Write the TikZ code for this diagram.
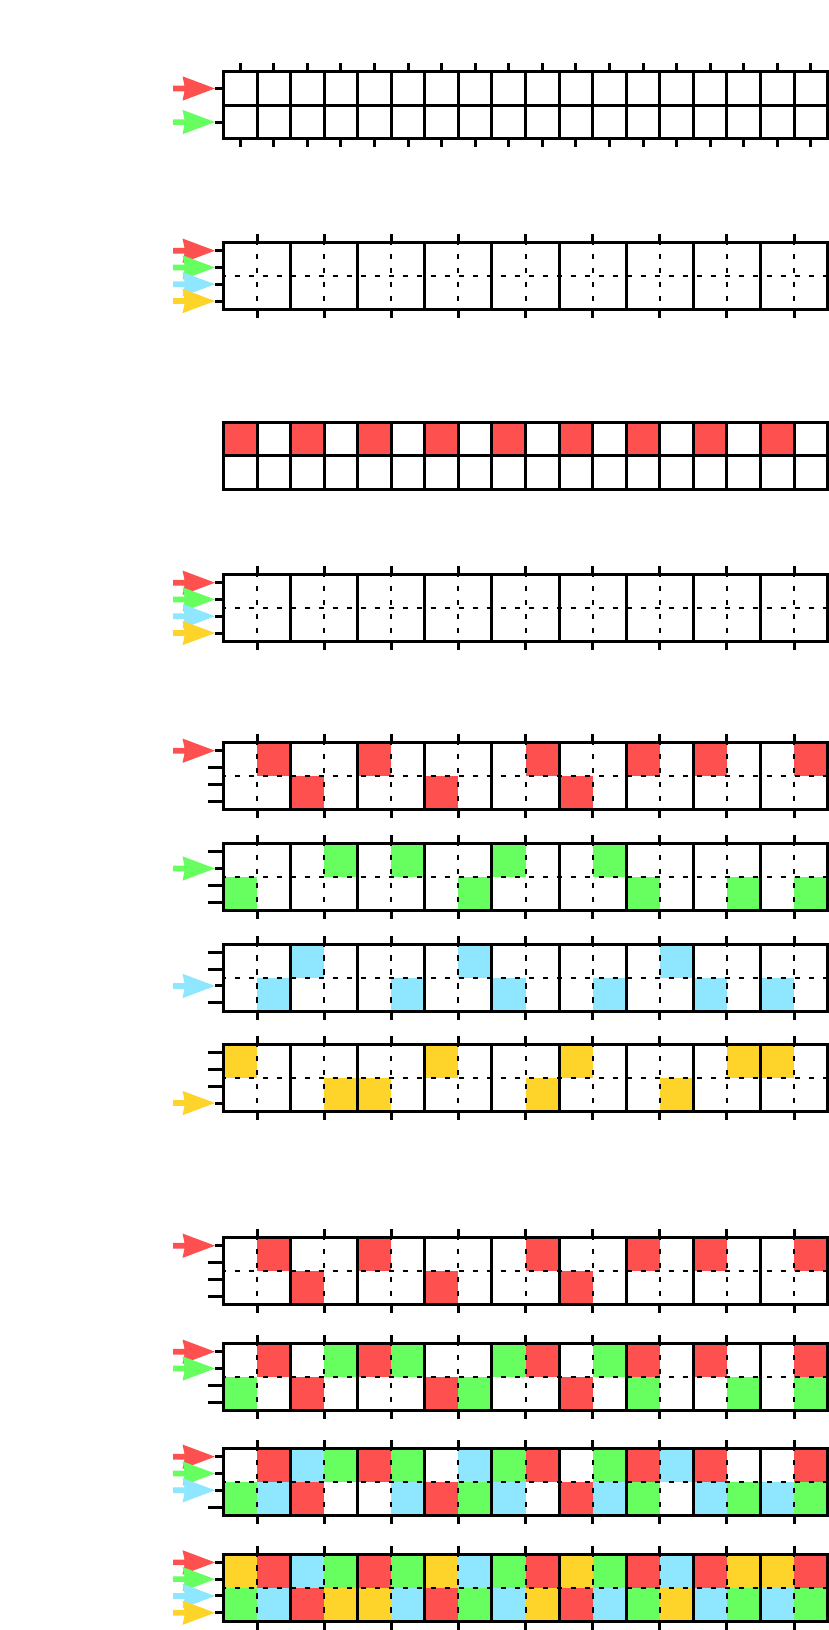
\documentclass[tikz,border=0pt]{standalone}
\definecolor{cr}{HTML}{FF5050}
\definecolor{cg}{HTML}{66FF5F}
\definecolor{cc}{HTML}{8EE6FF}
\definecolor{cy}{HTML}{FFD42A}
\tikzset{
  gridline/.style={line width=1.5pt},
  dashline/.style={line width=1pt, dash pattern=on 2.8pt off 4.2pt, dash phase=1.4pt},
  tickline/.style={line width=1.5pt},
}
\def\L{223.5}
\def\s{33.56}
% #1 top, #2 row, #3 list of columns, #4 colour
\newcommand\cellfill[4]{\edef\tmplist{#3}\foreach \c in \tmplist \fill[#4] ({\L+\c*\s},{#1+#2*\s}) rectangle ++(\s,\s);}
\newcommand\simplegrid[1]{%
  \foreach \i in {1,...,17} \draw[gridline] ({\L+\i*\s},#1) -- ++(0,{2*\s});
  \draw[gridline] (\L,{#1+\s}) -- ++({18*\s},0);
  \draw[gridline] (\L,#1) rectangle ++({18*\s},{2*\s});}
\newcommand\pairgrid[1]{%
  \draw[dashline] (\L,{#1+\s}) -- ++({18*\s},0);
  \foreach \k in {0,...,8} \draw[dashline] ({\L+(2*\k+1)*\s},#1) -- ++(0,{2*\s});
  \foreach \k in {1,...,8} \draw[gridline] ({\L+2*\k*\s},#1) -- ++(0,{2*\s});
  \draw[gridline] (\L,#1) rectangle ++({18*\s},{2*\s});
  \foreach \k in {0,...,8} {\draw[tickline] ({\L+(2*\k+1)*\s},#1) -- ++(0,-8.4);
    \draw[tickline] ({\L+(2*\k+1)*\s},{#1+2*\s}) -- ++(0,8.4);}}
\newcommand\arr[2]{\fill[#2] (173,{#1-2.8}) -- (184.5,{#1-2.8}) -- (182.5,{#1-12.2}) -- (215,#1) -- (182.5,{#1+12.2}) -- (184.5,{#1+2.8}) -- (173,{#1+2.8}) -- cycle;}
% top, index, start x
\newcommand\qtick[3]{\pgfmathsetmacro\yy{#1+(#2+0.5)*\s/2}\draw[tickline] (#3,\yy) -- (\L,\yy);}
% top, index, colour
\newcommand\qarr[3]{\pgfmathsetmacro\yy{#1+(#2+0.5)*\s/2}\arr{\yy}{#3}}
\newcommand\redT{1,4,9,12,14,17}\newcommand\redB{2,6,10}
\newcommand\grnT{3,5,8,11}\newcommand\grnB{0,7,12,15,17}
\newcommand\cynT{2,7,13}\newcommand\cynB{1,5,8,11,14,16}
\newcommand\ylwT{0,6,10,15,16}\newcommand\ylwB{3,4,9,13}
\begin{document}
\begin{tikzpicture}[x=0.5pt,y=-0.5pt]
\useasboundingbox (0,0) rectangle (829,1630);
% ---------- panel 1
\simplegrid{71.7}
\foreach \i in {0,...,17} {\draw[tickline] ({\L+(\i+0.5)*\s},71.7) -- ++(0,-8.4);
  \draw[tickline] ({\L+(\i+0.5)*\s},{71.7+2*\s}) -- ++(0,8.4);}
\draw[tickline] (215,{71.7+0.5*\s}) -- (\L,{71.7+0.5*\s});
\draw[tickline] (215,{71.7+1.5*\s}) -- (\L,{71.7+1.5*\s});
\arr{88.48}{cr}
\arr{122.04}{cg}
% ---------- panel 2
\pairgrid{242.3}
\foreach \j in {0,...,3} {\qtick{242.3}{\j}{215}}
\qarr{242.3}{0}{cr}\qarr{242.3}{1}{cg}\qarr{242.3}{2}{cc}\qarr{242.3}{3}{cy}
% ---------- panel 3
\cellfill{422.3}{0}{0,2,4,6,8,10,12,14,16}{cr}
\simplegrid{422.3}
% ---------- panel 4
\pairgrid{574.3}
\foreach \j in {0,...,3} {\qtick{574.3}{\j}{215}}
\qarr{574.3}{0}{cr}\qarr{574.3}{1}{cg}\qarr{574.3}{2}{cc}\qarr{574.3}{3}{cy}
% ---------- panel 5 (red)
\cellfill{742.3}{0}{\redT}{cr}\cellfill{742.3}{1}{\redB}{cr}
\pairgrid{742.3}
\qtick{742.3}{0}{215}\qtick{742.3}{1}{207.7}\qtick{742.3}{2}{207.7}\qtick{742.3}{3}{207.7}
\qarr{742.3}{0}{cr}
% ---------- panel 6 (green)
\cellfill{843.3}{0}{\grnT}{cg}\cellfill{843.3}{1}{\grnB}{cg}
\pairgrid{843.3}
\qtick{843.3}{0}{207.7}\qtick{843.3}{1}{215}\qtick{843.3}{2}{207.7}\qtick{843.3}{3}{207.7}
\qarr{843.3}{1}{cg}
% ---------- panel 7 (cyan)
\cellfill{944}{0}{\cynT}{cc}\cellfill{944}{1}{\cynB}{cc}
\pairgrid{944}
\qtick{944}{0}{207.7}\qtick{944}{1}{207.7}\qtick{944}{2}{215}\qtick{944}{3}{207.7}
\qarr{944}{2}{cc}
% ---------- panel 8 (yellow)
\cellfill{1044.3}{0}{\ylwT}{cy}\cellfill{1044.3}{1}{\ylwB}{cy}
\pairgrid{1044.3}
\qtick{1044.3}{0}{207.7}\qtick{1044.3}{1}{207.7}\qtick{1044.3}{2}{207.7}\qtick{1044.3}{3}{215}
\qarr{1044.3}{3}{cy}
% ---------- panel 9 (red)
\cellfill{1237.3}{0}{\redT}{cr}\cellfill{1237.3}{1}{\redB}{cr}
\pairgrid{1237.3}
\qtick{1237.3}{0}{215}\qtick{1237.3}{1}{207.7}\qtick{1237.3}{2}{207.7}\qtick{1237.3}{3}{207.7}
\qarr{1237.3}{0}{cr}
% ---------- panel 10 (red+green)
\cellfill{1343.3}{0}{\redT}{cr}\cellfill{1343.3}{1}{\redB}{cr}
\cellfill{1343.3}{0}{\grnT}{cg}\cellfill{1343.3}{1}{\grnB}{cg}
\pairgrid{1343.3}
\qtick{1343.3}{0}{215}\qtick{1343.3}{1}{215}\qtick{1343.3}{2}{207.7}\qtick{1343.3}{3}{207.7}
\qarr{1343.3}{0}{cr}\qarr{1343.3}{1}{cg}
% ---------- panel 11 (red+green+cyan)
\cellfill{1448.3}{0}{\redT}{cr}\cellfill{1448.3}{1}{\redB}{cr}
\cellfill{1448.3}{0}{\grnT}{cg}\cellfill{1448.3}{1}{\grnB}{cg}
\cellfill{1448.3}{0}{\cynT}{cc}\cellfill{1448.3}{1}{\cynB}{cc}
\pairgrid{1448.3}
\qtick{1448.3}{0}{215}\qtick{1448.3}{1}{215}\qtick{1448.3}{2}{215}\qtick{1448.3}{3}{207.7}
\qarr{1448.3}{0}{cr}\qarr{1448.3}{1}{cg}\qarr{1448.3}{2}{cc}
% ---------- panel 12 (all)
\cellfill{1554}{0}{\redT}{cr}\cellfill{1554}{1}{\redB}{cr}
\cellfill{1554}{0}{\grnT}{cg}\cellfill{1554}{1}{\grnB}{cg}
\cellfill{1554}{0}{\cynT}{cc}\cellfill{1554}{1}{\cynB}{cc}
\cellfill{1554}{0}{\ylwT}{cy}\cellfill{1554}{1}{\ylwB}{cy}
\pairgrid{1554}
\foreach \j in {0,...,3} {\qtick{1554}{\j}{215}}
\qarr{1554}{0}{cr}\qarr{1554}{1}{cg}\qarr{1554}{2}{cc}\qarr{1554}{3}{cy}
\end{tikzpicture}
\end{document}
